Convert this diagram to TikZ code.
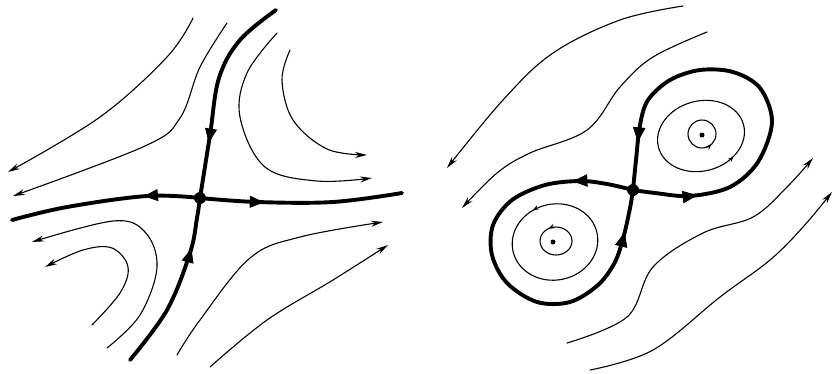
\documentclass[tikz,border=0pt]{standalone}
\usetikzlibrary{arrows.meta,decorations.markings}
\tikzset{
  thin line/.style={line width=1.1pt, line cap=round},
  thick line/.style={line width=3.9pt, line cap=round},
  endarrow/.style={-{Stealth[length=12pt,width=6pt]}},
  midarrow/.style={postaction={decorate}, decoration={markings,
      mark=at position #1 with {\arrow{Triangle[length=15pt,width=11pt]}}}},
  smallarrow/.style={postaction={decorate}, decoration={markings,
      mark=at position #1 with {\arrow{Stealth[length=6pt,width=4.5pt]}}}},
  saddle/.style={circle, fill=black, inner sep=0pt, minimum size=12pt},
  centre/.style={circle, fill=black, inner sep=0pt, minimum size=5pt}
}
\begin{document}
\begin{tikzpicture}[x=1pt,y=-1pt]
\useasboundingbox (0,0) rectangle (834,373);

% ================= LEFT: saddle =================
\node[saddle] (s1) at (200,198) {};
% thick separatrices
\draw[thick line, midarrow=0.74] plot[smooth, tension=0.6] coordinates
  {(276,10) (240,40) (219,78) (210,135) (200,198)};
\draw[thick line, midarrow=0.72] plot[smooth, tension=0.6] coordinates
  {(130,360) (167,310) (190,253) (197,218) (200,198)};
\draw[thick line, midarrow=0.30] plot[smooth, tension=0.6] coordinates
  {(200,198) (147,196) (67,207) (12,220)};
\draw[thick line, midarrow=0.32] plot[smooth, tension=0.6] coordinates
  {(200,198) (257,202) (333,202) (402,193)};
% thin trajectories
\draw[thin line, endarrow] plot[smooth, tension=0.6] coordinates
  {(193,18) (167,57) (100,117) (8,172)};
\draw[thin line, endarrow] plot[smooth, tension=0.6] coordinates
  {(227,23) (200,67) (180,118) (145,146) (13,196)};
\draw[thin line, endarrow] plot[smooth, tension=0.6] coordinates
  {(290,50) (282,80) (293,120) (327,149) (367,155)};
\draw[thin line, endarrow] plot[smooth, tension=0.6] coordinates
  {(277,33) (247,73) (240,117) (265,167) (317,181) (372,178)};
\draw[thin line, endarrow] plot[smooth, tension=0.6] coordinates
  {(107,348) (140,315) (157,267) (145,232) (113,221) (32,242)};
\draw[thin line, endarrow] plot[smooth, tension=0.6] coordinates
  {(92,325) (120,293) (128,267) (112,248) (83,250) (45,267)};
\draw[thin line, endarrow] plot[smooth, tension=0.6] coordinates
  {(177,355) (200,320) (250,258) (300,237) (383,222)};
\draw[thin line, endarrow] plot[smooth, tension=0.6] coordinates
  {(210,367) (267,320) (333,280) (388,245)};

% ================= RIGHT: figure-eight =================
\node[saddle] (s2) at (633,190) {};
\node[centre] (c1) at (702,135) {};
\node[centre] (c2) at (553,242) {};
% thick homoclinic loops
\draw[thick line, midarrow=0.15, midarrow=0.89] plot[smooth, tension=0.55] coordinates
  {(633,190) (655,193) (690,196) (730,187) (758,162) (772,122) (760,88)
   (733,72) (700,70) (670,80) (648,100) (640,125) (636,160) (633,190)};
\draw[thick line, midarrow=0.145, midarrow=0.90] plot[smooth, tension=0.55] coordinates
  {(633,190) (607,184) (580,181) (545,185) (512,200) (493,225) (492,255)
   (507,283) (537,302) (570,302) (598,285) (615,262) (624,235) (630,208) (633,190)};
% inner closed orbits, upper right
\draw[thin line, smallarrow=0.86, rotate around={15:(701,136)}]
  (701,136) ellipse [x radius=44, y radius=-35];
\draw[thin line, smallarrow=0.87]
  (702,134) ellipse [x radius=14, y radius=-14];
% inner closed orbits, lower left
\draw[thin line, smallarrow=0.31, rotate around={12:(555,242)}]
  (555,242) ellipse [x radius=43, y radius=-38];
\draw[thin line, smallarrow=0.33]
  (556,241) ellipse [x radius=16, y radius=-14];
% outer trajectories
\draw[thin line, endarrow] plot[smooth, tension=0.6] coordinates
  {(683,6) (620,20) (553,53) (503,100) (447,168)};
\draw[thin line, endarrow] plot[smooth, tension=0.6] coordinates
  {(707,32) (653,57) (620,87) (587,130) (530,153) (497,173) (462,208)};
\draw[thin line, endarrow] plot[smooth, tension=0.6] coordinates
  {(567,343) (627,317) (653,267) (703,233) (753,217) (787,187) (813,158)};
\draw[thin line, endarrow] plot[smooth, tension=0.6] coordinates
  {(590,370) (653,350) (720,297) (770,260) (803,227) (832,192)};
\end{tikzpicture}
\end{document}
